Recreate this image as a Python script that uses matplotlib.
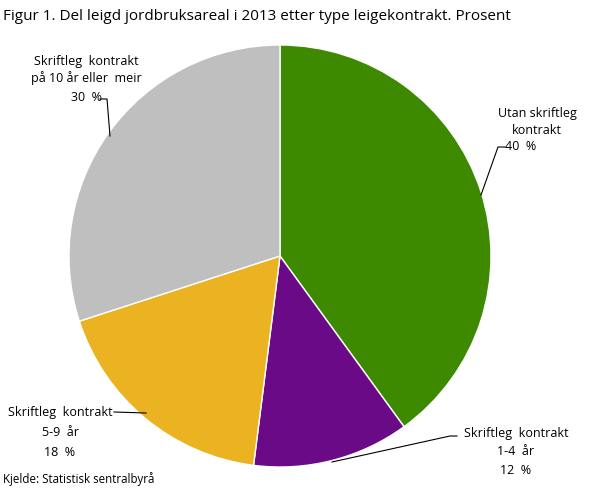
import matplotlib
matplotlib.use("Agg")
import matplotlib.pyplot as plt

plt.rcParams['font.family'] = ['Open Sans', 'DejaVu Sans']

# data
categories = ["Utan skriftleg kontrakt", "Skriftleg kontrakt 1-4 år",
              "Skriftleg kontrakt 5-9 år", "Skriftleg kontrakt på 10 år eller meir"]
shares = [40, 12, 18, 30]
colors = ["#3d8a00", "#6a0a86", "#ebb322", "#bfbfbf"]

W, H = 609, 489
fig = plt.figure(figsize=(W / 100, H / 100), dpi=100)
ax = fig.add_axes([0, 0, 1, 1])

cx, cy, r = 280, H - 257, 211
ax.pie(shares, colors=colors, startangle=90, counterclock=False,
       center=(cx, cy), radius=r, frame=True,
       wedgeprops=dict(edgecolor="white", linewidth=1))
ax.set_xlim(0, W)
ax.set_ylim(0, H)
ax.set_aspect("equal")
ax.axis("off")

def y(v):
    return H - v

fs = 9
# labels and leader lines
ax.text(537, y(122), "Utan skriftleg\nkontrakt", ha="center", va="center",
        fontsize=fs, linespacing=1.35)
ax.text(521, y(147), f"{shares[0]}  %", ha="center", va="center", fontsize=fs)
ax.plot([481, 498, 505], [y(196), y(148), y(148)], color="black", lw=0.8)

ax.text(516, y(434), "Skriftleg  kontrakt", ha="center", va="center", fontsize=fs)
ax.text(516, y(452), "1-4  år", ha="center", va="center", fontsize=fs)
ax.text(516, y(471), f"{shares[1]}  %", ha="center", va="center", fontsize=fs)
ax.plot([457, 450, 332], [y(437), y(437), y(463)], color="black", lw=0.8)

ax.text(60, y(413), "Skriftleg  kontrakt", ha="center", va="center", fontsize=fs)
ax.text(60, y(433), "5-9  år", ha="center", va="center", fontsize=fs)
ax.text(60, y(453), f"{shares[2]}  %", ha="center", va="center", fontsize=fs)
ax.plot([114, 146], [y(413), y(414)], color="black", lw=0.8)

ax.text(86, y(62), "Skriftleg  kontrakt", ha="center", va="center", fontsize=fs)
ax.text(86, y(78), "på 10 år eller  meir", ha="center", va="center", fontsize=fs)
ax.text(86, y(98), f"{shares[3]}  %", ha="center", va="center", fontsize=fs)
ax.plot([100, 107, 110], [y(100), y(100), y(137)], color="black", lw=0.8)

fig.text(3 / W, 1 - 17 / H, "Figur 1. Del leigd jordbruksareal i 2013 etter type leigekontrakt. Prosent",
         ha="left", va="center", fontsize=11)
fig.text(3 / W, 1 - 479 / H, "Kjelde: Statistisk sentralbyrå",
         ha="left", va="center", fontsize=8.3)

fig.savefig("out.png", dpi=100)
